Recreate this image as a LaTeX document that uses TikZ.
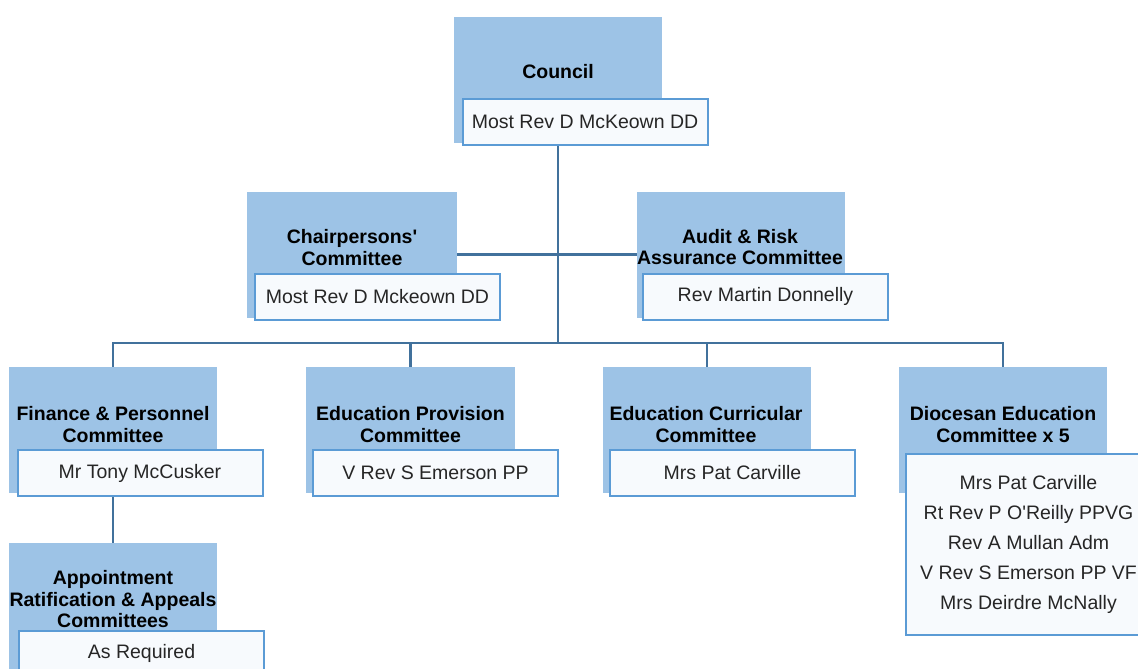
\documentclass[tikz,border=0pt]{standalone}
\usepackage{fontspec}
\setmainfont{Liberation Sans}
\usetikzlibrary{backgrounds}
\definecolor{bluefill}{HTML}{9DC3E6}
\definecolor{boxline}{HTML}{5B9BD5}
\definecolor{connline}{HTML}{41719C}
\definecolor{paleface}{HTML}{F7FAFD}
\tikzset{
  bluebox/.style={draw=none, fill=bluefill, minimum width=208pt, minimum height=126pt, inner sep=0pt},
  whitebox/.style={draw=boxline, line width=2pt, fill=paleface, minimum width=245pt, minimum height=46pt, inner sep=0pt,
    font=\fontsize{19.5}{30}\selectfont, text=black!85, align=center},
  titletext/.style={font=\fontsize{19.5}{21.5}\selectfont\bfseries, align=center, inner sep=0pt},
  conn/.style={draw=connline, line width=2.6pt}
}
\begin{document}
\begin{tikzpicture}[x=1pt,y=-1pt]
\useasboundingbox (0,0) rectangle (1138,669);
\clip (0,0) rectangle (1138,669);
% blue boxes
\node[bluebox] (council) at (558,80) {};
\node[bluebox, minimum width=210pt] (chair) at (352,254.5) {};
\node[bluebox] (audit) at (741,254.5) {};
\node[bluebox] (fin) at (113,430) {};
\node[bluebox, minimum width=209pt] (edp) at (410.5,430) {};
\node[bluebox] (edc) at (707,430) {};
\node[bluebox] (dio) at (1003,430) {};
\node[bluebox] (app) at (113,606) {};
% titles
\node[titletext] (councilT) at (558,72) {Council};
\node[titletext] (chairT) at (352,247.5) {Chairpersons\textquotesingle\\Committee};
\node[titletext] (auditT) at (740,247) {Audit \& Risk\\Assurance Committee};
\node[titletext] (finT) at (113,424.5) {Finance \& Personnel\\Committee};
\node[titletext] (edpT) at (410.5,424.5) {Education Provision\\Committee};
\node[titletext] (edcT) at (706,424.5) {Education Curricular\\Committee};
\node[titletext] (dioT) at (1003,424.5) {Diocesan Education\\Committee x 5};
\node[titletext] (appT) at (113,599.5) {Appointment\\Ratification \& Appeals\\Committees};
% white boxes
\node[whitebox] (councilP) at (585,121.5) {Most Rev D McKeown DD};
\node[whitebox] (chairP) at (377.5,296.5) {Most Rev D Mckeown DD};
\node[whitebox] (auditP) at (765.5,296.5) {Rev Martin Donnelly};
\node[whitebox] (finP) at (140,473) {Mr Tony McCusker};
\node[whitebox] (edpP) at (435.5,473) {V Rev S Emerson PP};
\node[whitebox] (edcP) at (732.5,473) {Mrs Pat Carville};
\node[whitebox, minimum height=181pt] (dioP) at (1028.5,544) {Mrs Pat Carville\\Rt Rev P O\textquotesingle Reilly PPVG\\Rev A Mullan Adm\\V Rev S Emerson PP VF\\Mrs Deirdre McNally};
\node[whitebox] (appP) at (141.5,653.5) {As Required};
% connectors
\begin{scope}[on background layer]
\coordinate (hub) at (558,343);
\draw[conn] (council.south) -- (hub);
\draw[conn] (chair.east) -- (audit.west);
\draw[conn] (fin.north) |- (hub);
\draw[conn] (edp.north) |- (hub);
\draw[conn] (edc.north) |- (hub);
\draw[conn] (dio.north) |- (hub);
\draw[conn] (fin.south) -- (app.north);
\end{scope}
\end{tikzpicture}
\end{document}
